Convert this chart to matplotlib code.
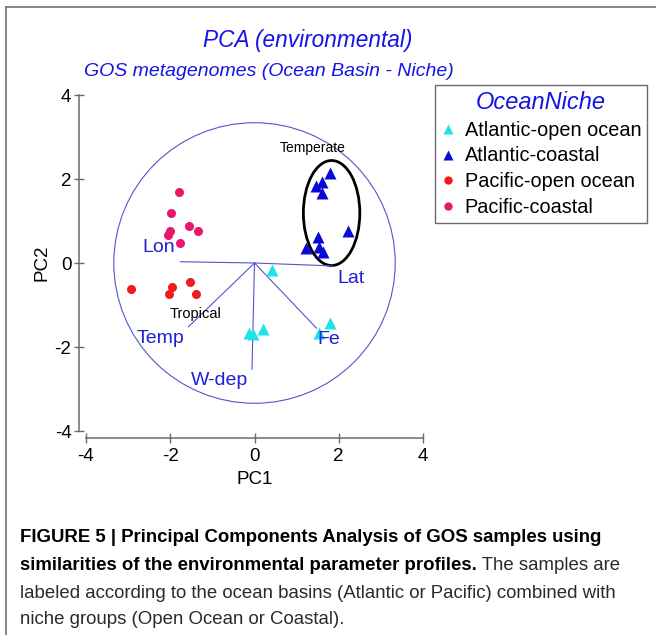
import matplotlib
matplotlib.use('Agg')
import matplotlib.pyplot as plt
from matplotlib import font_manager
from matplotlib.patches import Circle, Ellipse
from matplotlib.lines import Line2D

plt.rcParams['font.family'] = ['Liberation Sans', 'DejaVu Sans']
plt.rcParams['axes.unicode_minus'] = False

# sample scores (PC1, PC2)
atl_open_x = [0.42, -0.14, -0.04, 0.20, 1.53, 1.79]
atl_open_y = [-0.17, -1.66, -1.68, -1.58, -1.66, -1.44]
atl_coast_x = [1.79, 1.60, 1.45, 1.60, 2.21, 1.51, 1.23, 1.53, 1.63]
atl_coast_y = [2.14, 1.94, 1.83, 1.67, 0.76, 0.63, 0.35, 0.37, 0.27]
pac_open_x = [-2.94, -1.95, -2.02, -1.52, -1.39]
pac_open_y = [-0.62, -0.56, -0.74, -0.45, -0.74]
pac_coast_x = [-1.79, -1.98, -1.56, -1.33, -2.00, -2.05, -1.77]
pac_coast_y = [1.70, 1.18, 0.89, 0.76, 0.77, 0.67, 0.47]

# environmental loading vectors
vec_names = ['Lon', 'Lat', 'Temp', 'W-dep', 'Fe']
vec_x = [-1.76, 1.86, -1.57, -0.06, 1.47]
vec_y = [0.03, -0.07, -1.52, -2.53, -1.55]

group_names = ['Atlantic-open ocean', 'Atlantic-coastal', 'Pacific-open ocean', 'Pacific-coastal']
ticks = [-4, -2, 0, 2, 4]

caption_bold1 = 'FIGURE 5 | Principal Components Analysis of GOS samples using'
caption_bold2 = 'similarities of the environmental parameter profiles.'
caption_reg2 = ' The samples are'
caption_reg3 = 'labeled according to the ocean basins (Atlantic or Pacific) combined with'
caption_reg4 = 'niche groups (Open Ocean or Coastal).'

# colours
CYAN = '#1fe3e6'
BLUE = '#0a0ad8'
RED = '#ee1c1c'
PINK = '#e8166c'
VEC = '#5555c8'
LABEL = '#1f1fd6'
AXC = '#6a6a6a'

W, H = 656, 635
def fx(px):
    return px / W
def fy(py):
    return 1 - py / H

fig = plt.figure(figsize=(W / 100, H / 100), dpi=100)

#figure frame (top + left only)
fig.add_artist(Line2D([fx(6), 1], [fy(7), fy(7)], color='#666666', lw=1.1))
fig.add_artist(Line2D([fx(6), fx(6)], [fy(7), 0], color='#666666', lw=1.1))

#titles
fig.text(fx(308), fy(40), 'PCA (environmental)', color='#1414e6', style='italic',
         fontsize=16.3, ha='center', va='center')
fig.text(fx(269), fy(72), 'GOS metagenomes (Ocean Basin - Niche)', color='#1414e6',
         style='italic', fontsize=14, ha='center', va='center')

#main axes
ax = fig.add_axes([fx(86), fy(431), (423 - 86) / W, (431 - 95) / H])
ax.set_xlim(-4, 4)
ax.set_ylim(-4, 4)
for s in ['top', 'right']:
    ax.spines[s].set_visible(False)
for s in ['left', 'bottom']:
    ax.spines[s].set_position(('outward', 5))
    ax.spines[s].set_color(AXC)
    ax.spines[s].set_linewidth(1.1)
ax.set_xticks(ticks)
ax.set_yticks(ticks)
ax.tick_params(direction='inout', length=7, width=1, color=AXC, labelsize=13.5)
ax.tick_params(axis='x', pad=4)
ax.tick_params(axis='y', pad=2)
ax.set_xlabel('PC1', fontsize=13.5, labelpad=4)
ax.set_ylabel('PC2', fontsize=13.5, labelpad=3)

#circle of equilibrium + temperate ellipse
ax.add_patch(Circle((0, 0), 3.34, fill=False, ec=VEC, lw=0.8))
ax.add_patch(Ellipse((1.83, 1.19), 1.34, 2.5, fill=False, ec='black', lw=2))

#loading vectors and labels
lab_dx = [-0.51, 0.44, -0.66, -0.78, 0.30]
lab_dy = [0.34, -0.29, -0.27, -0.26, -0.26]
for name, x, y, dx, dy in zip(vec_names, vec_x, vec_y, lab_dx, lab_dy):
    ax.plot([0, x], [0, y], color=VEC, lw=0.8)
    ax.text(x + dx, y + dy, name, color=LABEL, fontsize=14, ha='center', va='center')

ax.text(-1.40, -1.21, 'Tropical', fontsize=10.5, ha='center', va='center')
ax.text(1.39, 2.73, 'Temperate', fontsize=10, ha='center', va='center')

#sample points
ax.plot(atl_open_x, atl_open_y, '^', color=CYAN, ms=8, mec='none', ls='none')
ax.plot(atl_coast_x, atl_coast_y, '^', color=BLUE, ms=8, mec='none', ls='none')
ax.plot(pac_open_x, pac_open_y, 'o', color=RED, ms=6.5, mec='none', ls='none')
ax.plot(pac_coast_x, pac_coast_y, 'o', color=PINK, ms=6.5, mec='none', ls='none')

#legend
handles = [Line2D([], [], marker='^', color=CYAN, ms=7, mec='none', ls='none'),
           Line2D([], [], marker='^', color=BLUE, ms=7, mec='none', ls='none'),
           Line2D([], [], marker='o', color=RED, ms=6, mec='none', ls='none'),
           Line2D([], [], marker='o', color=PINK, ms=6, mec='none', ls='none')]
leg = fig.legend(handles, group_names, loc='upper left', bbox_to_anchor=(fx(435), fy(85)),
                 fancybox=False, edgecolor=AXC, framealpha=1, fontsize=14.3,
                 title='OceanNiche', title_fontproperties={'style': 'italic', 'size': 17},
                 handlelength=0.7, handletextpad=0.5, labelspacing=0.34, borderpad=0.3,
                 borderaxespad=0)
leg.get_title().set_color('#1414e6')
leg.get_frame().set_linewidth(1)

#caption - try a narrow face, scale it so line 1 spans the reference width
names = {f.name for f in font_manager.fontManager.ttflist}
cap_font = 'Liberation Sans Narrow' if 'Liberation Sans Narrow' in names else 'Liberation Sans'
renderer = fig.canvas.get_renderer()
t1 = fig.text(fx(20), fy(537), caption_bold1, fontsize=14, weight='bold', family=cap_font,
              va='center', ha='left')
w1 = t1.get_window_extent(renderer).width
cap_size = 14 * 584 / w1
t1.set_fontsize(cap_size)
t2 = fig.text(fx(20), fy(565), caption_bold2, fontsize=cap_size, weight='bold', family=cap_font,
              va='center', ha='left')
w2 = t2.get_window_extent(renderer).width
fig.text(fx(20 + w2), fy(565), caption_reg2, fontsize=cap_size, family=cap_font,
         color='#2a2a2a', va='center', ha='left')
fig.text(fx(20), fy(593), caption_reg3, fontsize=cap_size, family=cap_font, color='#2a2a2a',
         va='center', ha='left')
fig.text(fx(20), fy(620), caption_reg4, fontsize=cap_size, family=cap_font, color='#2a2a2a',
         va='center', ha='left')

fig.savefig('out.png', dpi=100)
